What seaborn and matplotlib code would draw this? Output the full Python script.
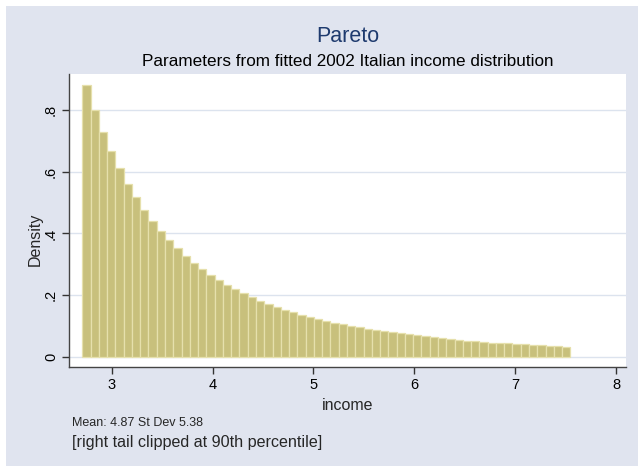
import numpy as np
import pandas as pd
import matplotlib
matplotlib.use("Agg")
import matplotlib.pyplot as plt
from matplotlib.patches import Rectangle
import seaborn as sns

# histogram of the clipped Pareto sample
income_min = 2.708
income_max = 7.547   # 90th percentile clip
n_bins = 59

density = [
    0.882, 0.801, 0.730, 0.668, 0.611, 0.561, 0.517, 0.476, 0.440, 0.407, 0.378, 0.352,
    0.327, 0.304, 0.284, 0.266, 0.249, 0.232, 0.219, 0.206, 0.194, 0.182, 0.172, 0.162, 0.153,
    0.145, 0.137, 0.130, 0.123, 0.117, 0.111, 0.106, 0.100, 0.096, 0.091, 0.086, 0.083, 0.080,
    0.077, 0.0735, 0.070, 0.067, 0.064, 0.0605, 0.057, 0.055, 0.053, 0.051, 0.049, 0.046,
    0.0453, 0.0443, 0.042, 0.041, 0.039, 0.038, 0.0356, 0.0346, 0.0334,
]

x_ticks = [3, 4, 5, 6, 7, 8]
y_ticks = [0, 0.2, 0.4, 0.6, 0.8]
y_ticklabels = ["0", ".2", ".4", ".6", ".8"]

title = "Pareto"
subtitle = "Parameters from fitted 2002 Italian income distribution"
note1 = "Mean: 4.87 St Dev 5.38"
note2 = "[right tail clipped at 90th percentile]"

edges = np.linspace(income_min, income_max, n_bins + 1)
df = pd.DataFrame({"income": (edges[:-1] + edges[1:]) / 2, "density": density})

sns.set_style("white")
plt.rcParams['font.family'] = ['Liberation Sans', 'DejaVu Sans']

bg = "#E0E4EF"
fig = plt.figure(figsize=(6.38, 4.66), dpi=100, facecolor="white")
fig.patches.append(Rectangle((6 / 638, 0), 1, 1 - 6 / 466, transform=fig.transFigure,
                             facecolor=bg, edgecolor="none", zorder=-10))

ax = fig.add_axes([69 / 638, 1 - 367 / 466, (626 - 69) / 638, (367 - 74) / 466])
ax.set_facecolor("white")

sns.histplot(data=df, x="income", weights="density", bins=n_bins,
             binrange=(income_min, income_max), stat="count",
             color="#C8C07C", edgecolor="#E6E0AC", linewidth=0.9, alpha=1, ax=ax)

ax.set_xlim(2.576, 8.099)
ax.set_ylim(-0.0324, 0.9166)

ax.set_xticks(x_ticks)
ax.set_yticks(y_ticks)
ax.set_yticklabels(y_ticklabels, rotation=90, va="center")
ax.tick_params(axis="both", direction="out", length=5, width=1, color="#333333",
               labelsize=10.5, labelcolor="black", pad=3)
ax.tick_params(axis="x", bottom=True)
ax.tick_params(axis="y", left=True)

ax.yaxis.grid(True, color="#DCE3EE", linewidth=1)
ax.set_axisbelow(True)

for s in ["top", "right"]:
    ax.spines[s].set_visible(False)
for s in ["left", "bottom"]:
    ax.spines[s].set_color("#444444")
    ax.spines[s].set_linewidth(1)

ax.set_xlabel("income", fontsize=11.5, labelpad=4.5)
ax.set_ylabel("Density", fontsize=11.5, labelpad=1)
ax.yaxis.label.set_y(0.437)

fig.text(348 / 638, 1 - 36 / 466, title, ha="center", va="center",
         fontsize=15.5, color="#1E3A6E")
fig.text(348 / 638, 1 - 62 / 466, subtitle, ha="center", va="center",
         fontsize=12.3, color="black")
fig.text(72 / 638, 1 - 423 / 466, note1, ha="left", va="center", fontsize=9)
fig.text(72 / 638, 1 - 442 / 466, note2, ha="left", va="center", fontsize=11.6)

plt.savefig("out.png", dpi=100, facecolor=fig.get_facecolor())
